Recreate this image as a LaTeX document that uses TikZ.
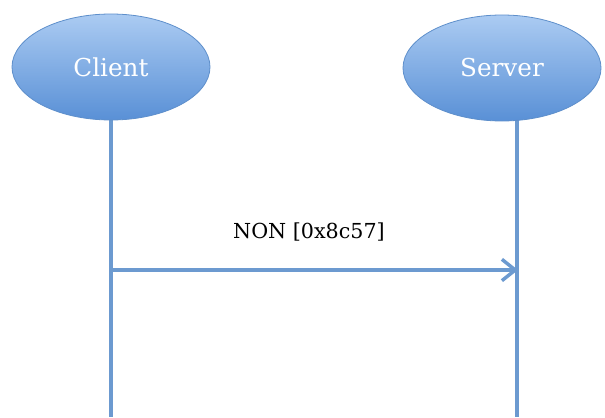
\documentclass[tikz,border=0pt]{standalone}
\usepackage{fontspec}
\setmainfont{DejaVu Serif}
\usetikzlibrary{arrows.meta}
\usetikzlibrary{shapes.geometric}
\definecolor{lineblue}{HTML}{6C9AD0}
\definecolor{topblue}{HTML}{ABCBF2}
\definecolor{botblue}{HTML}{5990D6}
\definecolor{edgeblue}{HTML}{5E8FCB}

\begin{document}
\begin{tikzpicture}[x=0.75pt, y=-0.75pt,
    actor/.style={ellipse, minimum width=148.5pt, minimum height=79.5pt, inner sep=0pt,
        draw=edgeblue, line width=0.6pt, top color=topblue, bottom color=botblue,
        text=white, font=\fontsize{18.5}{22}\selectfont},
    lifeline/.style={draw=lineblue, line width=3pt},
    msg/.style={draw=lineblue, line width=3pt, -{Straight Barb[length=10pt, width=16pt, line width=2.6pt]}}]
    \useasboundingbox (0,0) rectangle (605,417);

    % Lineas de vida (debajo de las entidades)
    \coordinate (clientTop) at (111,67);
    \coordinate (serverTop) at (517,67);
    \coordinate (clientEnd) at (111,417);
    \coordinate (serverEnd) at (517,417);
    \draw[lifeline] (clientTop) -- (clientEnd);
    \draw[lifeline] (serverTop) -- (serverEnd);

    % Entidades
    \node[actor] (client) at (111,67) {Client};
    \node[actor] (server) at (502,68) {Server};

    % Mensaje
    \coordinate (msgStart) at (111,270);
    \coordinate (msgEnd) at (518,270);
    \draw[msg] (msgStart) -- (msgEnd);
    \node[font=\fontsize{15.5}{18}\selectfont] (msgLabel) at (309,232) {NON [0x8c57]};
\end{tikzpicture}
\end{document}
